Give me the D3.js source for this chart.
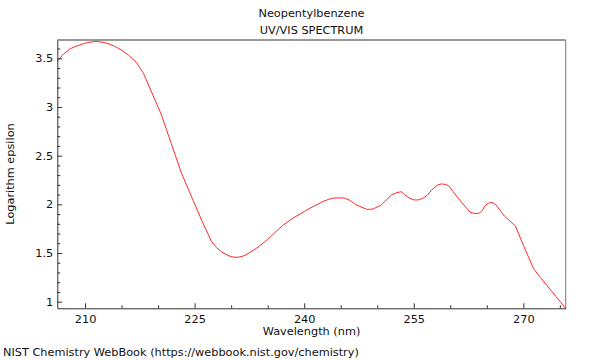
<!DOCTYPE html>
<html><head><meta charset="utf-8">
<script src="https://cdn.jsdelivr.net/npm/d3@7"></script>
<style>body{margin:0;background:#fff}svg{display:block;font-family:"DejaVu Sans",sans-serif}</style>
</head><body><svg id="c" width="600" height="360"></svg>
<script>
const wavelength = [206.2,207,208,209,210,211,211.5,212,213,214,215,216,217,218,220.4,221.8,223.2,224.8,226,227.3,228,228.7,229.3,230,230.8,231.5,232,233.5,235,237,238.5,240,240.8,242.6,243.3,244,245.5,246.3,247,248.5,249,249.5,250.5,251.3,252,252.7,253.3,253.8,254.4,255,255.6,256.2,256.8,257.5,258.2,258.8,259.3,259.8,260.4,261,262.7,263.4,264,264.4,264.8,265.2,265.7,266.2,266.8,267.4,268.9,270,271.4,272.3,273.2,274.5,275.8];
const logEps = [3.47,3.54,3.60,3.63,3.655,3.67,3.672,3.67,3.655,3.625,3.585,3.53,3.46,3.345,2.93,2.625,2.32,2.04,1.83,1.62,1.555,1.51,1.485,1.462,1.455,1.465,1.48,1.55,1.64,1.78,1.86,1.925,1.96,2.03,2.05,2.065,2.065,2.04,2.00,1.95,1.948,1.955,1.99,2.05,2.10,2.12,2.13,2.095,2.065,2.045,2.045,2.06,2.09,2.15,2.195,2.21,2.205,2.19,2.13,2.07,1.92,1.905,1.91,1.94,1.99,2.01,2.02,2.00,1.94,1.88,1.78,1.58,1.34,1.25,1.17,1.05,0.93];
const xMajor = [210,225,240,255,270];
const xMinor = [215,220,230,235,245,250,260,265,275];
const yMajor = [1,1.5,2,2.5,3,3.5];
const yMinor = [1.1,1.2,1.3,1.4,1.6,1.7,1.8,1.9,2.1,2.2,2.3,2.4,2.6,2.7,2.8,2.9,3.1,3.2,3.3,3.4,3.6];
const title1 = "Neopentylbenzene", title2 = "UV/VIS SPECTRUM";
const xTitle = "Wavelength (nm)", yTitle = "Logarithm epsilon";
const credit = "NIST Chemistry WebBook (https://webbook.nist.gov/chemistry)";

const FS = 11.3;
const L=57.3,R=565.7,T=40,B=308.3;
const svg=d3.select("#c");
const x=d3.scaleLinear().domain([206.2,275.8]).range([L,R]);
const y=d3.scaleLinear().domain([0.932,3.688]).range([B,T]);

// frame top/right
svg.append("line").attr("x1",L).attr("x2",R).attr("y1",T).attr("y2",T).attr("stroke","#999").attr("stroke-width",2);
svg.append("line").attr("x1",R).attr("x2",R).attr("y1",T).attr("y2",B).attr("stroke","#777").attr("stroke-width",1);

// clip
svg.append("clipPath").attr("id","clip").append("rect").attr("x",L).attr("y",T).attr("width",R-L).attr("height",B-T);
const data=wavelength.map((w,i)=>[w,logEps[i]]);
svg.append("path").datum(data).attr("clip-path","url(#clip)")
  .attr("d",d3.line().x(d=>x(d[0])).y(d=>y(d[1])).curve(d3.curveLinear))
  .attr("fill","none").attr("stroke","#ff2a2a").attr("stroke-width",1);

// x axis
const gx=svg.append("g").attr("transform",`translate(0,${B})`);
gx.call(d3.axisBottom(x).tickValues(xMinor).tickSize(-3).tickFormat(""));
gx.select(".domain").remove();
const gx2=svg.append("g").attr("transform",`translate(0,${B})`);
gx2.call(d3.axisBottom(x).tickValues(xMajor).tickSizeInner(-5).tickSizeOuter(0).tickPadding(7).tickFormat(d3.format("d")));
gx2.selectAll("text").attr("font-size",FS).attr("fill","#111").attr("font-family","DejaVu Sans");
gx2.select(".domain").attr("stroke","#333");

// y axis
const gy=svg.append("g").attr("transform",`translate(${L},0)`);
gy.call(d3.axisLeft(y).tickValues(yMinor).tickSize(-3).tickFormat(""));
gy.select(".domain").remove();
const gy2=svg.append("g").attr("transform",`translate(${L},0)`);
gy2.call(d3.axisLeft(y).tickValues(yMajor).tickSizeInner(-5).tickSizeOuter(0).tickPadding(4).tickFormat(d=>d3.format("")(d)));
gy2.selectAll("text").attr("font-size",FS).attr("fill","#111").attr("font-family","DejaVu Sans");
gy2.select(".domain").attr("stroke","#333");
svg.selectAll("g .tick line").attr("stroke","#333");

// titles
const cx=(L+R)/2;
svg.append("text").attr("x",cx).attr("y",17).attr("text-anchor","middle").attr("font-size",FS).attr("fill","#111").text(title1);
svg.append("text").attr("x",cx).attr("y",34).attr("text-anchor","middle").attr("font-size",FS).attr("fill","#111").text(title2);
svg.append("text").attr("x",cx).attr("y",335).attr("text-anchor","middle").attr("font-size",FS).attr("fill","#111").text(xTitle);
svg.append("text").attr("transform",`translate(14,174) rotate(-90)`).attr("text-anchor","middle").attr("font-size",FS).attr("fill","#111").text(yTitle);
svg.append("text").attr("x",3).attr("y",356).attr("font-size",FS).attr("fill","#111").text(credit);
</script></body></html>
